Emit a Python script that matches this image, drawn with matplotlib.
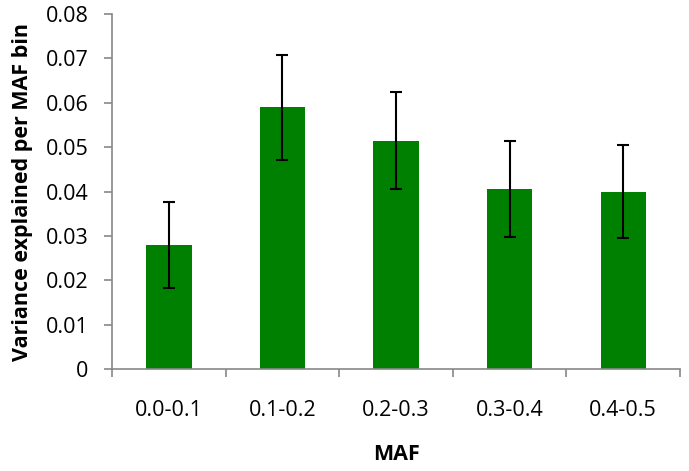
import numpy as np
import matplotlib.pyplot as plt

# MAF bins and variance explained
bins = ["0.0-0.1", "0.1-0.2", "0.2-0.3", "0.3-0.4", "0.4-0.5"]
variance = [0.0279, 0.0590, 0.0515, 0.0405, 0.0400]
err = [0.0097, 0.0118, 0.0110, 0.0108, 0.0104]

plt.rcParams['font.family'] = ['Open Sans', 'DejaVu Sans']

fig = plt.figure(figsize=(6.89, 4.71), dpi=100)
ax = fig.add_axes([0.1626, 0.2166, 0.8244, 0.7534])

x = np.arange(len(bins))
ax.bar(x, variance, width=0.4, color='#008000', zorder=2)
ax.errorbar(x, variance, yerr=err, fmt='none', ecolor='black',
            elinewidth=1.5, capsize=4, capthick=1.5, zorder=3)

ax.set_xlim(-0.5, len(bins) - 0.5)
ax.set_ylim(0, 0.08)
ax.set_yticks(np.arange(0, 0.081, 0.01))
ax.set_yticklabels(["0"] + [f"{v:.2f}" for v in np.arange(0.01, 0.081, 0.01)])

# category labels centred, ticks at bin boundaries
ax.set_xticks(x)
ax.set_xticklabels(bins)
ax.tick_params(axis='x', which='major', length=0, pad=22, labelsize=15.5)
ax.set_xticks(np.arange(-0.5, len(bins)), minor=True)
ax.tick_params(axis='x', which='minor', length=6, color='#888888', width=1.2)
ax.tick_params(axis='y', length=6, color='#888888', width=1.2, labelsize=15.5, pad=11)

for s in ['top', 'right']:
    ax.spines[s].set_visible(False)
for s in ['left', 'bottom']:
    ax.spines[s].set_color('#888888')
    ax.spines[s].set_linewidth(1.2)

ax.set_xlabel("MAF", fontsize=15.5, fontweight='bold', labelpad=17)
ax.set_ylabel("Variance explained per MAF bin", fontsize=15.5, fontweight='bold', labelpad=9)

fig.savefig("out.png", dpi=100)
